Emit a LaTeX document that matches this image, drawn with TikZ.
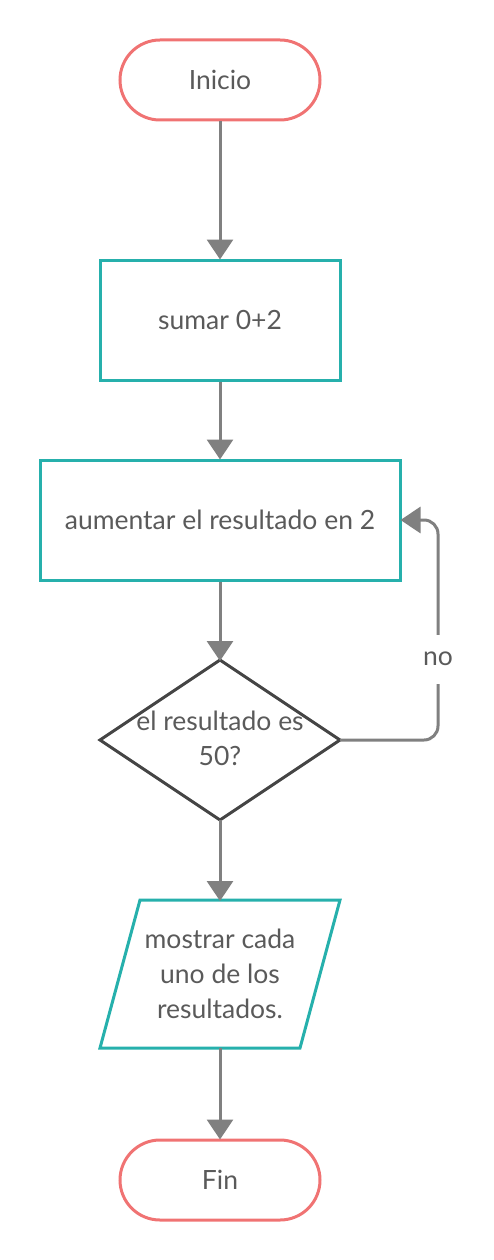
\documentclass[tikz,border=0pt]{standalone}
\usepackage{fontspec}
\setmainfont{Lato}
\usetikzlibrary{shapes.geometric,arrows.meta}
\definecolor{salmon}{HTML}{F07373}
\definecolor{teal}{HTML}{26B0AC}
\definecolor{dark}{HTML}{454545}
\definecolor{conn}{HTML}{808080}
\definecolor{txt}{HTML}{5A5A5A}
\begin{document}
\begin{tikzpicture}[x=1pt,y=-1pt,
  every node/.style={font=\fontsize{26.5}{35}\selectfont, text=txt},
  term/.style={draw=salmon, line width=3pt, rounded corners=40pt, minimum width=200pt, minimum height=80pt, inner sep=0pt},
  proc/.style={draw=teal, line width=3pt, inner sep=0pt},
  decis/.style={draw=dark, line width=3pt},
  conarrow/.style={draw=conn, line width=3pt, -{Triangle[width=26pt,length=20pt]}, shorten >=-1pt}
]
\useasboundingbox (0,0) rectangle (494,1260);
\node[term] (start) at (220,80) {Inicio};
\node[proc, minimum width=240pt, minimum height=120pt] (sum) at (220,320) {sumar 0+2};
\node[proc, minimum width=360pt, minimum height=120pt] (inc) at (220,520) {aumentar el resultado en 2};
\coordinate (dt) at (220,660);
\coordinate (dr) at (340,740);
\coordinate (db) at (220,820);
\coordinate (dl) at (100,740);
\draw[decis, line join=miter] (dt) -- (dr) -- (db) -- (dl) -- cycle;
\node[align=center] (dec) at (220,738) {el resultado es\\50?};
\coordinate (pt) at (220,900);
\coordinate (pb) at (220,1048);
\draw[proc, line join=miter] (140,900) -- (340,900) -- (300,1048) -- (100,1048) -- cycle;
\node[align=center] (out) at (220,974) {mostrar cada\\uno de los\\resultados.};
\node[term] (fin) at (220,1180) {Fin};
\draw[conarrow] (start.south) -- (sum.north);
\draw[conarrow] (sum.south) -- (inc.north);
\draw[conarrow] (inc.south) -- (dt);
\draw[conarrow] (db) -- (pt);
\draw[conarrow] (pb) -- (fin.north);
\coordinate (lr) at (438,740);
\coordinate (ur) at (438,520);
\draw[conarrow, rounded corners=14pt] (dr) -- (lr) -- (ur) -- (inc.east);
\node[fill=white, inner sep=2pt, minimum height=49pt] (no) at (438,659) {no};
\end{tikzpicture}
\end{document}
